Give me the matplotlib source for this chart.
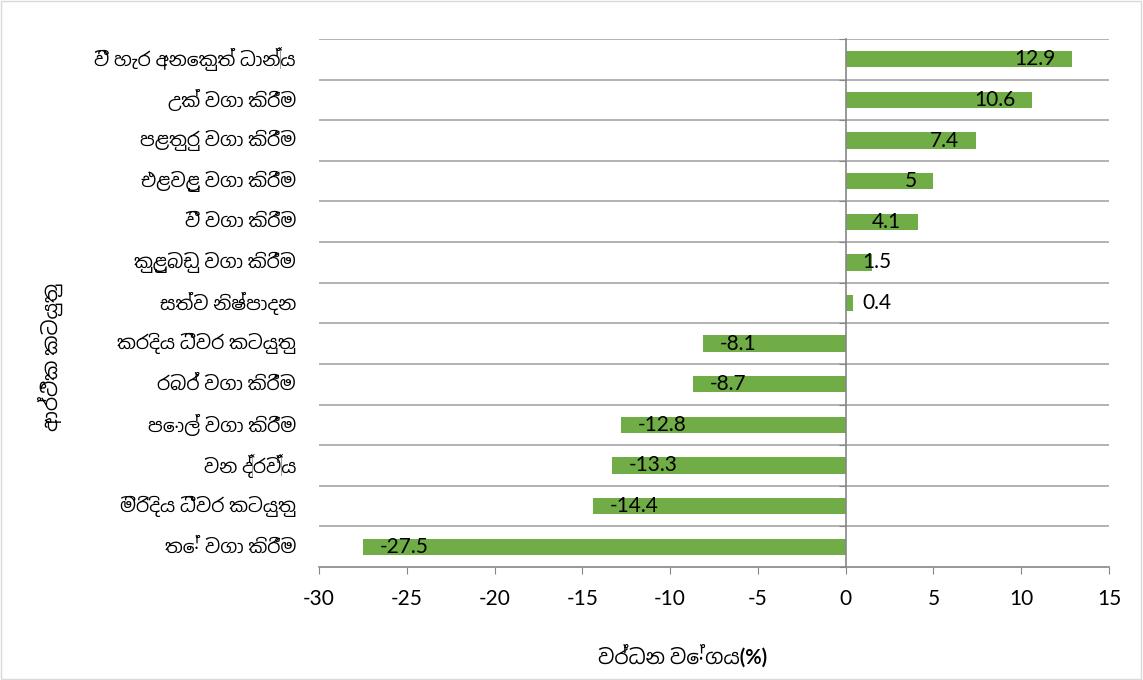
import matplotlib
matplotlib.use("Agg")
import matplotlib.pyplot as plt
import matplotlib.transforms as mtransforms
from matplotlib import font_manager
from matplotlib.patches import Rectangle
from matplotlib.ticker import FixedLocator

categories = [
    "වී හැර අනෙකුත් ධාන්‍ය",
    "උක් වගා කිරීම",
    "පළතුරු වගා කිරීම",
    "එළවළු වගා කිරීම",
    "වී වගා කිරීම",
    "කුළුබඩු වගා කිරීම",
    "සත්ව නිෂ්පාදන",
    "කරදිය ධීවර කටයුතු",
    "රබර් වගා කිරීම",
    "පොල් වගා කිරීම",
    "වන ද්‍රව්‍ය",
    "මිරිදිය ධීවර කටයුතු",
    "තේ වගා කිරීම",
]
growth = [12.9, 10.6, 7.4, 5, 4.1, 1.5, 0.4, -8.1, -8.7, -12.8, -13.3, -14.4, -27.5]
value_labels = ["12.9", "10.6", "7.4", "5", "4.1", "1.5", "0.4",
                "-8.1", "-8.7", "-12.8", "-13.3", "-14.4", "-27.5"]
x_ticks = [-30, -25, -20, -15, -10, -5, 0, 5, 10, 15]
x_title = "වර්ධන වේගය(%)"
y_title = "ආර්ථික කටයුතු"


def find_sinhala_font():
    # look for installed fonts that have Sinhala glyphs, prefer non-mono sans
    try:
        from fontTools.ttLib import TTFont
    except ImportError:
        return None
    found = []
    for f in font_manager.fontManager.ttflist:
        try:
            cmap = TTFont(f.fname, fontNumber=0, lazy=True).getBestCmap()
        except Exception:
            continue
        if cmap and 0x0D9A in cmap and 0x0DCA in cmap:
            found.append(f.name)
    if not found:
        return None

    def rank(n):
        low = n.lower()
        r = 0
        if "sinhala" in low:
            r -= 10
        if "mono" in low:
            r += 20
        if "sans" in low:
            r -= 2
        return r
    return sorted(set(found), key=rank)[0]


sinhala = find_sinhala_font()
fam = ["Lato", "DejaVu Sans"]
if sinhala:
    fam = fam + [sinhala]
plt.rcParams["font.family"] = fam
plt.rcParams["axes.unicode_minus"] = False

fig = plt.figure(figsize=(11.43, 6.8), dpi=100)
ax = fig.add_axes([0.2791, 0.1662, 0.6912, 0.7764])

pos = list(range(len(categories)))
ax.barh(pos, growth, height=0.4, color="#70AD47", zorder=3)

ax.set_ylim(len(categories) - 0.5, -0.5)
ax.set_xlim(-30, 15)
ax.set_xticks(x_ticks)
ax.tick_params(axis="x", labelsize=15, length=5, color="#868686", pad=11)

# gridlines on category boundaries
bounds = [i - 0.5 for i in range(len(categories) + 1)]
for b in bounds[:-1]:
    ax.axhline(b, color="#A6A6A6", lw=1.2, zorder=1)

# category axis at zero with small boundary ticks
ax.spines["left"].set_position(("data", 0))
ax.spines["left"].set_color("#868686")
ax.spines["left"].set_linewidth(1.2)
ax.spines["left"].set_zorder(4)
ax.yaxis.set_major_locator(FixedLocator(bounds))
ax.set_yticklabels([])
ax.tick_params(axis="y", length=5, color="#868686", direction="out")
ax.spines["right"].set_visible(False)
ax.spines["top"].set_visible(False)
ax.spines["bottom"].set_color("#868686")
ax.spines["bottom"].set_linewidth(1.2)

lbl_tr = mtransforms.blended_transform_factory(ax.transAxes, ax.transData)
for i, name in enumerate(categories):
    ax.text(-0.029, i, name, transform=lbl_tr, ha="right", va="center", fontsize=13.5)

# value labels, inside end like the original
for i, (v, s) in enumerate(zip(growth, value_labels)):
    if v >= 0:
        if v > 3:
            ax.annotate(s, (v, i), xytext=(-12, 0), textcoords="offset points",
                        ha="right", va="center", fontsize=15, zorder=5)
        else:
            ax.annotate(s, (0, i), xytext=(12, 0), textcoords="offset points",
                        ha="left", va="center", fontsize=15, zorder=5)
    else:
        ax.annotate(s, (v, i), xytext=(12, 0), textcoords="offset points",
                    ha="left", va="center", fontsize=15, zorder=5)

fig.text(0.597, 0.036, x_title, ha="center", va="center", fontsize=14.5, fontweight="bold")
fig.text(0.044, 0.475, y_title, ha="center", va="center", rotation=90,
         fontsize=14.5, fontweight="bold")

fig.patches.append(Rectangle((0.001, 0.002), 0.997, 0.996, transform=fig.transFigure,
                             fill=False, edgecolor="#D9D9D9", lw=1))

fig.savefig("out.png", dpi=100)
